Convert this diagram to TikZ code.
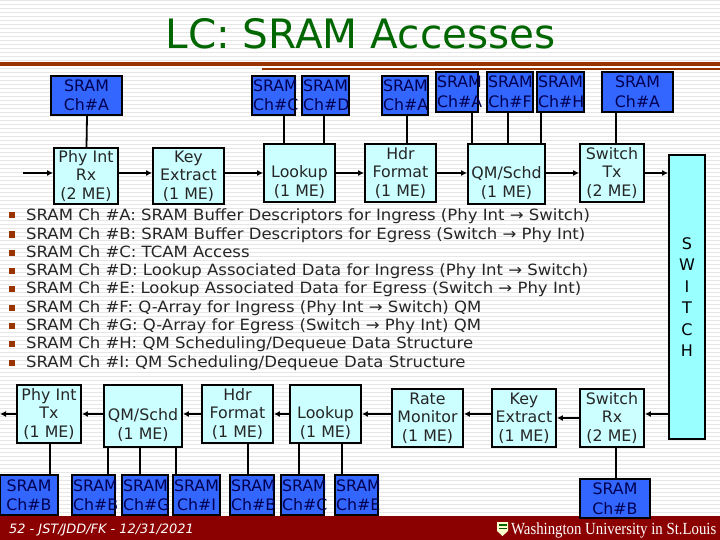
\documentclass[tikz,border=0pt]{standalone}
\usepackage{fontspec}
\setmainfont{DejaVu Sans}
\newfontfamily\logofont[FakeStretch=0.87]{Liberation Serif}
\newfontfamily\listfont[FakeStretch=1.065]{DejaVu Sans}
\usetikzlibrary{arrows.meta}
\definecolor{sramblue}{HTML}{3366FF}
\definecolor{boxcyan}{HTML}{CCFFFF}
\definecolor{barcyan}{HTML}{99FFFF}
\definecolor{titlegreen}{HTML}{006600}
\definecolor{rulered}{HTML}{993300}
\definecolor{footred}{HTML}{8B0000}
\definecolor{stripe}{HTML}{E6E6E6}
\definecolor{inkblue}{HTML}{000050}
\newcommand{\blankline}{\rule{0pt}{12pt}}
\tikzset{
  x=1pt,y=-1pt,
  pbox/.style={draw=black,line width=1.8pt,fill=boxcyan,inner sep=0pt,align=center,font=\fontsize{15.8}{18.5}\selectfont,text=black!85},
  sram/.style={draw=black,line width=1.8pt,fill=sramblue,inner sep=0pt,align=center,font=\fontsize{15.8}{19.5}\selectfont,text=inkblue},
  wire/.style={line width=1.8pt},
  flow/.style={line width=1.8pt,-{Latex[length=6pt,width=6pt]}},
  listline/.style={anchor=base west,inner sep=0pt,font=\listfont\fontsize{15.5}{18}\selectfont,text=black!85},
  bullet/.style={fill=rulered,inner sep=0pt,minimum size=6pt}
}
\newcommand{\placebox}[6]{% style,name,x1,y1,x2,y2
  \pgfmathsetmacro{\cxv}{(#3+#5)/2}\pgfmathsetmacro{\cyv}{(#4+#6)/2}
  \pgfmathsetmacro{\wv}{#5-#3}\pgfmathsetmacro{\hv}{#6-#4}
  \node[#1,minimum width=\wv pt,minimum height=\hv pt,text width=\wv pt-2pt] (#2) at (\cxv,\cyv)}
\begin{document}
\begin{tikzpicture}
\useasboundingbox (0,0) rectangle (720,540);
\fill[white] (0,0) rectangle (720,540);
\foreach \yy in {0,4,...,516}{\fill[stripe] (0,\yy) rectangle (720,\yy+1.4);}
% title
\node[text=titlegreen,font=\fontsize{40.5}{44}\selectfont,inner sep=0pt,anchor=base] (title) at (360.5,49) {LC: SRAM Accesses};
\fill[rulered] (0,62.5) rectangle (720,66);
\fill[rulered] (262,68.5) rectangle (720,70);
% top SRAM
\placebox{sram}{ta}{51}{76}{122}{115}{SRAM\\Ch\#A};
\placebox{sram}{tc}{252}{76}{295}{115}{SRAM\\Ch\#C};
\placebox{sram}{td}{302}{76}{349}{115}{SRAM\\Ch\#D};
\placebox{sram}{tb}{382}{76}{428}{115}{SRAM\\Ch\#A};
\placebox{sram}{te}{436}{72}{478}{112}{SRAM\\Ch\#A};
\placebox{sram}{tf}{487}{72}{533}{112}{SRAM\\Ch\#F};
\placebox{sram}{th}{537}{72}{584}{112}{SRAM\\Ch\#H};
\placebox{sram}{tg}{602}{72}{673}{112}{SRAM\\Ch\#A};
% top process boxes
\placebox{pbox}{prx}{54}{148}{118}{204}{Phy Int\\Rx\\(2 ME)};
\placebox{pbox}{key}{153}{148}{224}{204}{Key\\Extract\\(1 ME)};
\placebox{pbox}{lk}{264}{144}{335}{202}{\blankline\\Lookup\\(1 ME)};
\placebox{pbox}{hdr}{365}{144}{436}{202}{Hdr\\Format\\(1 ME)};
\placebox{pbox}{qm}{468}{144}{545}{204}{\blankline\\QM/Schd\\(1 ME)};
\placebox{pbox}{stx}{580}{144}{644}{202}{Switch\\Tx\\(2 ME)};
% switch bar
\node[draw=black,line width=1.8pt,fill=barcyan,minimum width=36pt,minimum height=284pt,inner sep=0pt,align=center,font=\fontsize{16}{21.4}\selectfont] (bar) at (687,297) {S\\W\\I\\T\\C\\H};
% top verticals
\draw[wire] ([xshift=0.5pt]ta.south) -- ([xshift=0.5pt]prx.north);
\draw[wire] ([xshift=10.5pt]tc.south) -- ([xshift=-15.5pt]lk.north);
\draw[wire] ([xshift=-1.5pt]td.south) -- ([xshift=24.5pt]lk.north);
\draw[wire] ([xshift=2pt]tb.south) -- ([xshift=6.5pt]hdr.north);
\draw[wire] ([xshift=15pt]te.south) -- ([xshift=-34.5pt]qm.north);
\draw[wire] ([xshift=-2pt]tf.south) -- ([xshift=1.5pt]qm.north);
\draw[wire] ([xshift=-19.5pt]th.south) -- ([xshift=34.5pt]qm.north);
\draw[wire] ([xshift=-21.5pt]tg.south) -- ([xshift=4pt]stx.north);
% top flow
\coordinate (inl) at (23,173);
\draw[flow] (inl) -- (inl -| prx.west);
\draw[flow] (prx.east |- inl) -- (key.west |- inl);
\draw[flow] (key.east |- inl) -- (lk.west |- inl);
\draw[flow] (lk.east |- inl) -- (hdr.west |- inl);
\draw[flow] (hdr.east |- inl) -- (qm.west |- inl);
\draw[flow] (qm.east |- inl) -- (stx.west |- inl);
\draw[flow] (stx.east |- inl) -- (bar.west |- inl);
% list
\foreach \yy/\tt in {
 220.5/{SRAM Ch \#A: SRAM Buffer Descriptors for Ingress (Phy Int → Switch)},
 239.5/{SRAM Ch \#B: SRAM Buffer Descriptors for Egress (Switch → Phy Int)},
 257.5/{SRAM Ch \#C: TCAM Access},
 275.5/{SRAM Ch \#D: Lookup Associated Data for Ingress (Phy Int → Switch)},
 293.5/{SRAM Ch \#E: Lookup Associated Data for Egress (Switch → Phy Int)},
 312.5/{SRAM Ch \#F: Q-Array for Ingress (Phy Int → Switch) QM},
 330.5/{SRAM Ch \#G: Q-Array for Egress (Switch → Phy Int) QM},
 348.5/{SRAM Ch \#H: QM Scheduling/Dequeue Data Structure},
 367.5/{SRAM Ch \#I: QM Scheduling/Dequeue Data Structure}}
{
 \node[bullet] at (12,\yy-5) {};
 \node[listline] at (26,\yy) {\tt};
}
% bottom process boxes
\placebox{pbox}{ptx}{17}{385}{81}{443}{Phy Int\\Tx\\(1 ME)};
\placebox{pbox}{bqm}{104}{385}{182}{447}{\blankline\\QM/Schd\\(1 ME)};
\placebox{pbox}{bhd}{202}{385}{273}{443}{Hdr\\Format\\(1 ME)};
\placebox{pbox}{blk}{290}{385}{361}{443}{\blankline\\Lookup\\(1 ME)};
\placebox{pbox}{rate}{392}{389}{463}{447}{Rate\\Monitor\\(1 ME)};
\placebox{pbox}{bke}{492}{389}{556}{447}{Key\\Extract\\(1 ME)};
\placebox{pbox}{srx}{580}{389}{644}{447}{Switch\\Rx\\(2 ME)};
% footer
\fill[footred] (0,516) rectangle (720,540);
% bottom SRAM
\placebox{sram}{b1}{0}{475}{58}{515}{SRAM\\Ch\#B};
\placebox{sram}{b2}{72}{475}{115}{515}{SRAM\\Ch\#B};
\placebox{sram}{b3}{122}{475}{168}{515}{SRAM\\Ch\#G};
\placebox{sram}{b4}{173}{475}{220}{515}{SRAM\\Ch\#I};
\placebox{sram}{b5}{230}{475}{274}{515}{SRAM\\Ch\#B};
\placebox{sram}{b6}{281}{475}{324}{515}{SRAM\\Ch\#C};
\placebox{sram}{b7}{335}{475}{378}{515}{SRAM\\Ch\#E};
\placebox{sram}{b8}{580}{479}{650}{518}{SRAM\\Ch\#B};
% bottom verticals
\draw[wire] ([xshift=1pt]ptx.south) -- ([xshift=21pt]b1.north);
\draw[wire] ([xshift=-35pt]bqm.south) -- ([xshift=14.5pt]b2.north);
\draw[wire] ([xshift=-3pt]bqm.south) -- ([xshift=-5pt]b3.north);
\draw[wire] ([xshift=33pt]bqm.south) -- ([xshift=-20.5pt]b4.north);
\draw[wire] ([xshift=10.5pt]bhd.south) -- ([xshift=-4pt]b5.north);
\draw[wire] ([xshift=-26.5pt]blk.south) -- ([xshift=-3.5pt]b6.north);
\draw[wire] ([xshift=16.5pt]blk.south) -- ([xshift=-14.5pt]b7.north);
\draw[wire] ([xshift=4pt]srx.south) -- ([xshift=1pt]b8.north);
% bottom flow
\coordinate (lowy) at (0,414);
\coordinate (outl) at (0,414);
\draw[flow] (bhd.west |- lowy) -- (bqm.east |- lowy);
\draw[flow] (blk.west |- lowy) -- (bhd.east |- lowy);
\draw[flow] (bqm.west |- lowy) -- (ptx.east |- lowy);
\draw[flow] (ptx.west |- lowy) -- (outl);
\draw[flow] (rate.west |- lowy) -- (blk.east |- lowy);
\draw[flow] (bke.west |- lowy) -- (rate.east |- lowy);
\draw[flow] (srx.west) -- (bke.east |- srx.west);
\draw[flow] (bar.west |- lowy) -- (srx.east |- lowy);
% footer text
\node[anchor=base west,inner sep=0pt,text=white,font=\fontsize{12.9}{15}\selectfont\itshape] (foot) at (9,533) {52 - JST/JDD/FK - 12/31/2021};
\node[anchor=base west,inner sep=0pt,text=white,font=\logofont\fontsize{17}{20}\selectfont] (wu) at (511,534) {Washington University in St.Louis};
% crest
\fill[white!80!yellow] (497,522) -- (508,522) -- (508,531) -- (502.5,536) -- (497,531) -- cycle;
\fill[titlegreen] (498.5,523.5) rectangle (506.5,525.5);
\fill[titlegreen!80!black] (498.5,527.5) rectangle (506.5,529);
\end{tikzpicture}
\end{document}
